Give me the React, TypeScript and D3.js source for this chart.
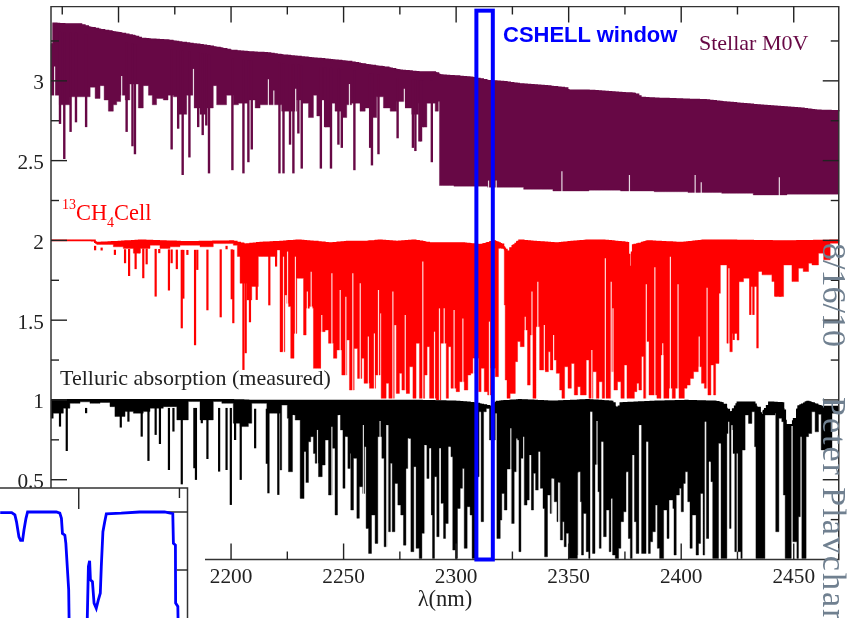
import React from 'react';
import * as d3 from 'd3';

type Pt = [number, number];

const xTicksMajor = [2150, 2200, 2250, 2300, 2350, 2400, 2450];
const xTicksMinor = [2125, 2175, 2225, 2275, 2325, 2375, 2425];
const yTicksMajor = [0.5, 1, 1.5, 2, 2.5, 3];
const yTicksMinor = [0.25, 0.75, 1.25, 1.75, 2.25, 2.75, 3.25];
const xTickLabels = [2200, 2250, 2300, 2350, 2400, 2450];
const yTickLabels = ['0.5', '1', '1.5', '2', '2.5', '3'];
const cshellWindow = [2309, 2316.3];
const cshellTop = 3.44;

// stellar M0V spectrum, upper edge, lower edge, deep lines, thin slits
const stellarTop: Pt[] = [[2120, 3.23], [2120.7, 3.23], [2121, 3.36], [2126, 3.355], [2132, 3.355], [2137, 3.335], [2142, 3.32], [2150, 3.3], [2157, 3.28], [2160, 3.265], [2164, 3.26], [2171, 3.255], [2178, 3.24], [2186, 3.225], [2193, 3.21], [2200, 3.19], [2208, 3.18], [2215, 3.175], [2223, 3.16], [2234, 3.145], [2245, 3.13], [2252, 3.12], [2260, 3.1], [2268, 3.085], [2275, 3.065], [2284, 3.054], [2290, 3.054], [2293, 3.035], [2299, 3.03], [2307, 3.02], [2314, 3.0], [2320, 2.995], [2328, 2.98], [2338, 2.97], [2348, 2.955], [2350, 2.94], [2358, 2.94], [2368, 2.93], [2379, 2.92], [2382, 2.895], [2388, 2.89], [2399, 2.885], [2410, 2.88], [2420, 2.865], [2432, 2.85], [2441, 2.84], [2451, 2.83], [2460, 2.815], [2470, 2.81]];
const stellarLow: Pt[] = [[2120, 2.91], [2122.5, 2.91], [2123.7, 2.85], [2128.4, 2.9], [2133.6, 2.9], [2137.4, 2.96], [2139.6, 2.89], [2141.8, 2.97], [2143.6, 2.88], [2145.5, 2.81], [2147.7, 2.85], [2149.2, 2.87], [2151, 2.91], [2153, 2.88], [2155, 2.98], [2158.8, 2.83], [2161, 2.97], [2163.3, 2.91], [2165, 2.85], [2166.9, 2.89], [2169.9, 2.88], [2172, 2.91], [2174.4, 2.9], [2176.6, 2.79], [2180.3, 2.91], [2183.3, 2.83], [2186.2, 2.79], [2189, 2.83], [2192.1, 2.97], [2193.6, 2.85], [2195.9, 2.85], [2198, 2.91], [2201, 2.85], [2203.3, 2.86], [2207.7, 2.88], [2210.7, 2.83], [2212.9, 2.85], [2220.3, 2.85], [2222.5, 2.81], [2226.2, 2.81], [2229.2, 2.88], [2231.4, 2.86], [2234.4, 2.77], [2236.6, 2.91], [2238.1, 2.78], [2239.9, 2.88], [2241.8, 2.71], [2244, 2.86], [2246.2, 2.81], [2249.2, 2.77], [2251.4, 2.85], [2253.6, 2.86], [2257.3, 2.81], [2259.6, 2.83], [2261.8, 2.77], [2264.7, 2.9], [2267.7, 2.83], [2270.7, 2.81], [2273.6, 2.87], [2277.3, 2.83], [2280.3, 2.79], [2283.3, 2.86], [2285.2, 2.71], [2287, 2.86], [2290.7, 2.81], [2292.1, 2.87], [2292.6, 2.344], [2299, 2.34], [2314, 2.333], [2330, 2.32], [2343, 2.31], [2359, 2.315], [2373, 2.31], [2388, 2.305], [2403, 2.3], [2418, 2.295], [2432, 2.285], [2447, 2.29], [2458, 2.29], [2470, 2.29]];
const stellarLines: Pt[] = [[2124, 2.73], [2125.9, 2.51], [2128.7, 2.68], [2131.1, 2.74], [2135.6, 2.71], [2153.6, 2.68], [2156.2, 2.59], [2157.3, 2.54], [2173.6, 2.57], [2176.5, 2.7], [2178.5, 2.41], [2181.5, 2.52], [2185.4, 2.71], [2187.4, 2.66], [2189, 2.72], [2190.2, 2.42], [2200.6, 2.44], [2205.5, 2.42], [2207.7, 2.49], [2209.2, 2.57], [2221.5, 2.42], [2223.3, 2.42], [2226.2, 2.6], [2227.7, 2.42], [2229.9, 2.67], [2231.4, 2.45], [2239.9, 2.45], [2241.8, 2.71], [2244.4, 2.45], [2247.7, 2.6], [2249.2, 2.58], [2254.8, 2.44], [2261.8, 2.58], [2262.6, 2.47], [2265.5, 2.54], [2274, 2.64], [2280.8, 2.58], [2281.9, 2.56], [2283.7, 2.62], [2285.2, 2.71], [2284.4, 2.62], [2289.2, 2.49]];
const stellarGaps: Pt[] = [[2121.6, 3.09], [2151.4, 3.03], [2183.3, 3.075], [2216.6, 3.01], [2219, 2.94], [2228.7, 2.95], [2252.6, 2.98], [2277, 2.95], [2314.4, 2.375], [2317.8, 2.375], [2347, 2.434], [2377, 2.41], [2406.2, 2.41], [2408.9, 2.365], [2443.6, 2.396]];

// 13CH4 cell spectrum
const cellTop: Pt[] = [[2120, 2.0], [2138, 2.0], [2140, 1.985], [2160, 2.0], [2180, 1.99], [2200, 1.995], [2206, 1.975], [2212, 1.985], [2221.8, 1.992], [2229, 2.0], [2236.6, 1.992], [2244, 1.982], [2251.4, 1.992], [2258.8, 1.992], [2266.2, 2.0], [2273.6, 1.992], [2281, 2.0], [2288.4, 1.982], [2295.9, 1.982], [2303.3, 1.982], [2310.7, 1.971], [2316.6, 1.995], [2320, 1.975], [2322.5, 1.93], [2325, 1.965], [2328, 2.0], [2336, 1.99], [2345, 1.982], [2350, 1.99], [2358, 2.0], [2365, 2.0], [2376, 1.985], [2377, 1.835], [2378.5, 1.97], [2385, 1.995], [2400, 1.985], [2410, 2.0], [2420, 2.0], [2445, 1.995], [2470, 2.0]];
const cellLow: Pt[] = [[2120, 2.0], [2138.1, 2.0], [2140.3, 1.975], [2147.7, 1.96], [2152.1, 1.95], [2156.6, 1.92], [2159.6, 1.95], [2164, 1.97], [2168.4, 1.95], [2172.9, 1.96], [2177.3, 1.97], [2186.2, 1.96], [2192.1, 1.98], [2201, 1.97], [2202.8, 1.899], [2204, 1.731], [2207, 1.627], [2209.2, 1.711], [2212.1, 1.899], [2220.3, 1.94], [2221.8, 1.302], [2223.9, 1.658], [2224.8, 1.605], [2225.5, 1.585], [2226.5, 1.261], [2228, 1.417], [2229.2, 1.762], [2232.2, 1.407], [2233.4, 1.574], [2234.8, 1.585], [2236.3, 1.574], [2236.6, 1.198], [2239.9, 1.428], [2241.8, 1.438], [2243.3, 1.355], [2245.5, 1.261], [2247, 1.313], [2249.2, 1.156], [2251.4, 1.376], [2252.6, 1.062], [2254.7, 1.323], [2256.2, 1.135], [2258.1, 1.261], [2259.1, 1.104], [2261.5, 1.073], [2264.2, 1.156], [2266.2, 1.543], [2266.7, 1.01], [2268.9, 1.104], [2270.1, 1.01], [2272.5, 1.47], [2273.4, 1.041], [2274.8, 1.167], [2275.9, 1.062], [2277.8, 1.041], [2279.3, 1.208], [2280.8, 1.01], [2282.2, 1.355], [2283.7, 1.01], [2286, 1.156], [2287.1, 1.334], [2288.2, 1.01], [2291.1, 1.0], [2293.2, 1.355], [2295.6, 1.01], [2296.6, 1.334], [2297.7, 1.073], [2300, 1.052], [2301.5, 1.114], [2303.6, 1.062], [2305.2, 1.156], [2306.5, 1.167], [2308, 1.261], [2310, 1.052], [2311.1, 1.198], [2312.5, 1.052], [2314, 1.031], [2315.4, 1.198], [2317.4, 1.146], [2318.8, 1.95], [2321.4, 1.595], [2321.8, 1.125], [2322.6, 1.01], [2324, 1.041], [2326.3, 1.24], [2327.3, 1.366], [2328.5, 1.334], [2330.3, 1.438], [2331.7, 1.093], [2332.9, 1.407], [2334, 1.01], [2335.5, 1.459], [2337.1, 1.188], [2339.6, 1.177], [2341, 1.302], [2341.8, 1.188], [2343.3, 1.25], [2344.5, 1.167], [2346, 1.062], [2347, 1.01], [2348.2, 1.208], [2349.7, 1.073], [2351.2, 1.229], [2352.5, 1.031], [2354, 1.083], [2355.2, 1.031], [2357.8, 1.25], [2359, 1.01], [2360.8, 1.177], [2362.3, 1.01], [2363.5, 1.114], [2364.9, 1.01], [2367.5, 1.01], [2368.8, 1.177], [2370, 1.062], [2371.7, 1.114], [2373.2, 1.01], [2374.7, 1.219], [2375.9, 1.01], [2379.2, 1.052], [2380.3, 1.104], [2381.2, 1.062], [2382.4, 1.272], [2383.3, 1.01], [2384.5, 1.366], [2385.7, 1.031], [2389.2, 1.01], [2391, 1.282], [2392.2, 1.01], [2394.6, 1.073], [2396, 1.01], [2397.4, 1.073], [2398.9, 1.01], [2401.4, 1.073], [2402.6, 1.093], [2404, 1.135], [2405.5, 1.177], [2407.7, 1.208], [2409, 1.104], [2410.3, 1.073], [2411.7, 1.031], [2413.2, 1.219], [2414.4, 1.031], [2415.3, 1.229], [2416.8, 1.668], [2417.4, 1.846], [2419.6, 1.846], [2420.3, 1.355], [2421.5, 1.302], [2422.7, 1.417], [2424.8, 1.375], [2425.7, 1.741], [2427.7, 1.763], [2430.7, 1.711], [2432.1, 1.711], [2433.9, 1.805], [2435.9, 1.784], [2440.3, 1.742], [2442, 1.648], [2444, 1.648], [2445.5, 1.846], [2449.2, 1.742], [2452.1, 1.826], [2454.2, 1.805], [2456.6, 1.857], [2458.1, 1.846], [2461, 1.92], [2463.3, 1.878], [2466.2, 1.982], [2470, 1.982]];
const cellLines: Pt[] = [[2139.6, 1.966], [2142.5, 1.955], [2148.4, 1.909], [2152.9, 1.857], [2154.7, 1.777], [2157.6, 1.82], [2159.3, 1.92], [2161, 1.763], [2162.5, 1.85], [2166.5, 1.648], [2168.1, 1.92], [2172.4, 1.686], [2173.6, 1.857], [2175.9, 1.82], [2178.1, 1.449], [2178.8, 1.635], [2180.6, 1.909], [2184, 1.343], [2185, 1.815], [2189.5, 1.562], [2195.4, 1.518], [2198, 1.966], [2200.3, 1.631], [2201, 1.481], [2205.5, 1.188], [2206.5, 1.293], [2208.4, 1.487], [2211.4, 1.627], [2217, 1.593], [2220, 1.836], [2222.2, 1.301], [2423.3, 1.376], [2430.7, 1.533], [2432.1, 1.533], [2433.9, 1.324], [2441.8, 1.648], [2444, 1.648]];
const cellGaps: Pt[] = [[2223.3, 1.898], [2225.1, 1.93], [2228.6, 1.898], [2233.9, 1.679], [2235.6, 1.804], [2240.3, 1.532], [2244.8, 1.794], [2248.5, 1.689], [2251, 1.647], [2254.1, 1.794], [2257.4, 1.731], [2261, 1.397], [2263.7, 1.417], [2265.5, 1.689], [2271.9, 1.679], [2277.4, 1.532], [2285.2, 1.867], [2290.4, 1.428], [2292.6, 1.574], [2294.7, 1.574], [2299.1, 1.564], [2303, 1.511], [2307.7, 1.261], [2314.8, 1.491], [2319.6, 1.95], [2330.7, 1.522], [2333.7, 1.679], [2336.3, 1.741], [2339.2, 1.47], [2343.3, 1.407], [2360.3, 1.313], [2366.3, 1.888], [2368.9, 1.741], [2369.7, 1.574], [2384.5, 1.725], [2388.3, 1.831], [2391.8, 1.355], [2395.2, 1.898], [2398.6, 1.725], [2408, 1.397], [2411.5, 1.704], [2421.2, 1.825]];

// telluric absorption, measured
const tellTop: Pt[] = [[2120, 1.0], [2200, 1.0], [2210, 0.995], [2284, 0.995], [2300, 0.99], [2308, 0.98], [2315, 0.958], [2318, 0.99], [2328, 1.0], [2343, 0.99], [2358, 1.0], [2369, 0.99], [2371.4, 0.938], [2373, 0.98], [2388, 0.99], [2402, 0.995], [2415, 0.99], [2418, 0.98], [2421.7, 0.915], [2425, 0.985], [2432, 0.985], [2435.5, 0.906], [2439, 0.985], [2445, 0.98], [2446.5, 0.843], [2449, 0.843], [2452, 0.96], [2456, 0.99], [2462, 0.958], [2470, 0.958]];
const tellLow: Pt[] = [[2120, 0.885], [2121, 0.917], [2125.5, 0.948], [2128.4, 0.979], [2132.9, 0.988], [2137.3, 0.979], [2141.8, 0.984], [2146.2, 0.958], [2148.4, 0.896], [2152.9, 0.927], [2156.6, 0.917], [2161, 0.927], [2164, 0.948], [2169.9, 0.958], [2175.9, 0.875], [2181, 0.99], [2186.2, 0.875], [2192.1, 0.99], [2195.9, 0.979], [2201, 0.854], [2204, 0.833], [2207.7, 0.854], [2209.2, 0.979], [2212.9, 0.979], [2215.9, 0.917], [2218.8, 0.917], [2221.8, 0.561], [2222.5, 0.968], [2225, 0.885], [2225.5, 0.55], [2227.4, 0.906], [2228.5, 0.874], [2230.7, 0.383], [2232.5, 0.676], [2233.1, 0.483], [2234.4, 0.738], [2235.4, 0.77], [2236.6, 0.665], [2237.4, 0.603], [2238.8, 0.519], [2240.5, 0.592], [2241.8, 0.749], [2243.3, 0.404], [2244.9, 0.697], [2246.2, 0.279], [2247.3, 0.906], [2248.5, 0.812], [2249.7, 0.446], [2250.8, 0.77], [2251.9, 0.571], [2252.9, 0.665], [2253.2, 0.31], [2254.4, 0.634], [2255.9, 0.258], [2257, 0.456], [2258.5, 0.414], [2259.3, 0.707], [2260, 0.195], [2261.1, 0.038], [2262.4, 0.279], [2264, 0.101], [2265.2, 0.77], [2267, 0.634], [2268, 0.08], [2269.2, 0.843], [2270, 0.174], [2270.8, 0.603], [2271.6, 0.174], [2272.8, 0.477], [2274.1, 0.341], [2275.4, 0.279], [2276.6, 0.09], [2277.7, 0.571], [2278.8, 0.759], [2279.9, 0.049], [2281.2, 0.582], [2282.2, 0.07], [2283.6, 0.007], [2284.8, 0.164], [2286, 0.717], [2287, 0.508], [2288, 0.697], [2288.9, 0.279], [2289.5, 0.007], [2290.4, 0.519], [2291.4, 0.143], [2292.5, 0.697], [2293.2, 0.352], [2294.4, 0.132], [2295.3, 0.226], [2296.6, 0.707], [2297.7, 0.644], [2298.5, 0.059], [2299.7, 0.007], [2300.6, 0.32], [2301.8, 0.446], [2302.8, 0.571], [2303.6, 0.07], [2304.9, 0.331], [2306.2, 0.279], [2307.1, 0.007], [2309.2, 0.519], [2310.2, 0.926], [2311.1, 0.237], [2312.2, 0.926], [2313.4, 0.947], [2314.8, 0.749], [2317.4, 0.916], [2318.1, 0.132], [2319.6, 0.247], [2320.3, 0.414], [2321.4, 0.31], [2322.6, 0.567], [2324.5, 0.226], [2325.8, 0.55], [2327, 0.749], [2327.9, 0.049], [2328.8, 0.634], [2330, 0.341], [2331.5, 0.373], [2332.6, 0.655], [2333.4, 0.31], [2334.4, 0.54], [2335.3, 0.435], [2336.6, 0.676], [2337.4, 0.446], [2338.6, 0.32], [2339.3, 0.017], [2340.6, 0.404], [2341.8, 0.289], [2342.6, 0.508], [2343.6, 0.362], [2344.8, 0.237], [2345.7, 0.483], [2346.3, 0.122], [2347.3, 0.237], [2348, 0.08], [2348.9, 0.164], [2350, 0.007], [2354, 0.028], [2354.3, 0.55], [2355.2, 0.362], [2355.7, 0.028], [2356.6, 0.289], [2357.8, 0.049], [2358.9, 0.007], [2359.6, 0.926], [2360.6, 0.038], [2361.7, 0.596], [2362.9, 0.425], [2363.6, 0.07], [2364.6, 0.738], [2365.5, 0.143], [2366.7, 0.31], [2368, 0.049], [2368.8, 0.383], [2369.5, 0.028], [2370.7, 0.007], [2372.2, 0.07], [2373.2, 0.237], [2374.4, 0.299], [2375.6, 0.55], [2376.5, 0.132], [2377.4, 0.007], [2378.4, 0.655], [2379.2, 0.237], [2380, 0.038], [2381.2, 0.843], [2382.4, 0.038], [2384.5, 0.738], [2385.4, 0.038], [2386.3, 0.111], [2387.3, 0.174], [2388.5, 0.341], [2389.4, 0.07], [2390.4, 0.007], [2392.2, 0.31], [2393.7, 0.132], [2394.6, 0.373], [2396.3, 0.32], [2396.8, 0.028], [2397.8, 0.404], [2399.2, 0.446], [2400, 0.299], [2401, 0.477], [2401.8, 0.55], [2402.9, 0.362], [2403.9, 0.07], [2404.9, 0.279], [2406.6, 0.028], [2407.7, 0.101], [2408.6, 0.414], [2409.7, 0.028], [2410.6, 0.864], [2411.2, 0.132], [2412.3, 0.613], [2413.2, 0.488], [2414, 0.007], [2416.6, 0.728], [2417.7, 0.007], [2420.3, 0.79], [2421.3, 0.195], [2422.2, 0.843], [2422.9, 0.665], [2423.8, 0.049], [2426.5, 0.007], [2427.1, 0.686], [2428.4, 0.906], [2429.9, 0.853], [2431.4, 0.926], [2432.6, 0.707], [2433.2, 0.007], [2436.7, 0.007], [2437.2, 0.906], [2439.5, 0.906], [2441.7, 0.916], [2442, 0.174], [2443.1, 0.174], [2443.4, 0.885], [2444.7, 0.864], [2445.4, 0.404], [2446.2, 0.007], [2448.4, 0.007], [2448.9, 0.853], [2449.6, 0.111], [2451.4, 0.007], [2452.1, 0.268], [2452.9, 0.77], [2453.6, 0.007], [2455.2, 0.007], [2455.5, 0.77], [2456.6, 0.79], [2458, 0.926], [2459.5, 0.8], [2461, 0.91], [2462.2, 0.687], [2465.5, 0.687], [2467, 0.917], [2470, 0.854]];
const tellLines: Pt[] = [[2124, 0.833], [2127, 0.68], [2135.6, 0.917], [2151, 0.827], [2154.4, 0.864], [2160.3, 0.77], [2163.3, 0.618], [2166.5, 0.781], [2168.4, 0.724], [2172.4, 0.561], [2174.4, 0.802], [2178.1, 0.471], [2183.7, 0.572], [2184.4, 0.499], [2187, 0.854], [2189.5, 0.63], [2194.7, 0.551], [2198, 0.561], [2199.9, 0.342], [2201.8, 0.749], [2204.3, 0.499], [2210.7, 0.697], [2215.9, 0.6], [2216.6, 0.415], [2221, 0.405]];
const tellGaps: Pt[] = [[2227.7, 0.906], [2232.9, 0.676], [2238.4, 0.812], [2244.8, 0.832], [2248.2, 0.906], [2251, 0.77], [2258.8, 0.843], [2266.2, 0.868], [2269.2, 0.843], [2278.8, 0.759], [2286.2, 0.717], [2288.5, 0.697], [2292.9, 0.697], [2296.9, 0.707], [2324.3, 0.822], [2327, 0.759], [2330, 0.77], [2332.9, 0.655], [2336.9, 0.676], [2342.6, 0.508], [2345.5, 0.483], [2354.3, 0.546], [2359.9, 0.926], [2362.6, 0.868], [2364.8, 0.738], [2375.9, 0.546], [2378.6, 0.655], [2381.8, 0.843], [2384.8, 0.738], [2410.7, 0.864], [2412.6, 0.613], [2421.1, 0.864], [2422.7, 0.812], [2424.9, 0.665]];

// zoomed CSHELL line profile in the inset
const insetLine: Pt[] = [[2311.61, 0.999], [2311.667, 0.999], [2311.683, 0.995], [2311.691, 0.983], [2311.703, 0.957], [2311.711, 0.951], [2311.721, 0.951], [2311.728, 0.969], [2311.738, 0.989], [2311.746, 1.0], [2311.889, 1.0], [2311.906, 0.998], [2311.914, 0.989], [2311.919, 0.963], [2311.931, 0.96], [2311.936, 0.946], [2311.944, 0.9], [2311.95, 0.866], [2311.952, 0.817], [2311.964, 0.7], [2312.035, 0.7], [2312.048, 0.906], [2312.054, 0.916], [2312.058, 0.883], [2312.068, 0.88], [2312.076, 0.843], [2312.087, 0.834], [2312.097, 0.848], [2312.107, 0.86], [2312.112, 0.906], [2312.12, 0.966], [2312.129, 0.983], [2312.137, 0.997], [2312.211, 0.998], [2312.302, 1.0], [2312.426, 1.0], [2312.467, 0.997], [2312.47, 0.946], [2312.48, 0.943], [2312.481, 0.843], [2312.492, 0.837], [2312.493, 0.817], [2312.5, 0.7]];

const W = 847;
const H = 618;
const serif = '"Liberation Serif", serif';
const sans = '"Liberation Sans", sans-serif';
const maroon = '#670845';
const axisColor = '#333';

const x = d3.scaleLinear().domain([2120, 2470]).range([51, 838.75]);
const y = d3.scaleLinear().domain([0, 3.466]).range([559.5, 6.5]);
const insetX = d3.scaleLinear().domain([2311.609, 2312.54]).range([0, 187.5]);
const insetY = d3.scaleLinear().domain([1, 0.9]).range([512, 570]);

const topInterp = (pts: Pt[]) => d3.scaleLinear().domain(pts.map(p => p[0])).range(pts.map(p => p[1]));
// lower edge holds its value until the next reading
const lowStep = (pts: Pt[]) => {
    const bis = d3.bisector((p: Pt) => p[0]).right;
    return (w: number) => pts[Math.max(0, bis(pts, w) - 1)][1];
};

const Spectrum = ({ top, low, lines, gaps, floor, color, lineWidth }: { top: Pt[]; low: Pt[]; lines: Pt[]; gaps: Pt[]; floor: number; color: string; lineWidth: number }) => {
    const topAt = topInterp(top);
    const lowAt = lowStep(low);
    const waves = Array.from(new Set([...top.map(p => p[0]), ...low.map(p => p[0]), ...d3.range(2120, 2470, 1.5)])).sort(d3.ascending);
    const area = d3.area<number>()
        .x(d => x(d))
        .y0(d => y(Math.min(lowAt(d), topAt(d))))
        .y1(d => y(topAt(d)))
        .curve(d3.curveStepAfter);
    const topLine = d3.line<number>().x(d => x(d)).y(d => y(topAt(d))).curve(d3.curveStepAfter);
    return (
        <g>
            <path d={area(waves) ?? ''} fill={color} stroke={color} strokeWidth={0.4} />
            <path d={topLine(waves) ?? ''} fill="none" stroke={color} strokeWidth={1.8} />
            {gaps.map((g, i) => (
                <line key={i} x1={x(g[0])} x2={x(g[0])} y1={y(g[1])} y2={y(floor)} stroke="#fff" strokeWidth={1.2} opacity={0.85} />
            ))}
            {lines.map((l, i) => (
                <line key={i} x1={x(l[0])} x2={x(l[0])} y1={y(topAt(l[0]) - 0.05)} y2={y(l[1])} stroke={color} strokeWidth={lineWidth} />
            ))}
        </g>
    );
};

export default function App() {
    const insetPath = d3.line<Pt>().x(d => insetX(d[0])).y(d => insetY(d[1]))(insetLine) ?? '';
    return (
        <svg width={W} height={H} viewBox={`0 0 ${W} ${H}`} style={{ position: 'absolute', left: 0, top: 0, background: '#fff' }}>
            <defs>
                <filter id="soft" x="0" y="0" width="100%" height="100%" colorInterpolationFilters="sRGB">
                    <feGaussianBlur stdDeviation="0.35" />
                </filter>
            </defs>
            <g filter="url(#soft)">
                <Spectrum top={stellarTop} low={stellarLow} lines={stellarLines} gaps={stellarGaps} floor={2.26} color={maroon} lineWidth={2.4} />
                <Spectrum top={cellTop} low={cellLow} lines={cellLines} gaps={cellGaps} floor={1.0} color="#ff0000" lineWidth={2.2} />
                <Spectrum top={tellTop} low={tellLow} lines={tellLines} gaps={tellGaps} floor={0} color="#000" lineWidth={2.2} />

                {/* frame and ticks */}
                <rect x={x(2120)} y={y(3.466)} width={x(2470) - x(2120)} height={y(0) - y(3.466)} fill="none" stroke={axisColor} strokeWidth={1.5} />
                {xTicksMajor.map(t => (
                    <g key={t} stroke="#222" strokeWidth={1.4}>
                        <line x1={x(t)} x2={x(t)} y1={y(3.466)} y2={y(3.466) + 16} />
                        <line x1={x(t)} x2={x(t)} y1={y(0)} y2={y(0) - 16} />
                    </g>
                ))}
                {xTicksMinor.map(t => (
                    <g key={t} stroke="#222" strokeWidth={1.4}>
                        <line x1={x(t)} x2={x(t)} y1={y(3.466)} y2={y(3.466) + 8} />
                        <line x1={x(t)} x2={x(t)} y1={y(0)} y2={y(0) - 8} />
                    </g>
                ))}
                {yTicksMajor.map(t => (
                    <g key={t} stroke="#222" strokeWidth={1.4}>
                        <line x1={x(2120)} x2={x(2120) + 16} y1={y(t)} y2={y(t)} />
                        <line x1={x(2470)} x2={x(2470) - 16} y1={y(t)} y2={y(t)} />
                    </g>
                ))}
                {yTicksMinor.map(t => (
                    <g key={t} stroke="#222" strokeWidth={1.4}>
                        <line x1={x(2120)} x2={x(2120) + 8} y1={y(t)} y2={y(t)} />
                        <line x1={x(2470)} x2={x(2470) - 8} y1={y(t)} y2={y(t)} />
                    </g>
                ))}
                {yTickLabels.map(t => (
                    <text key={t} x={44} y={y(+t) + 8.5} textAnchor="end" fontFamily={serif} fontSize={21.3} fill="#222">{t}</text>
                ))}
                {xTickLabels.map(t => (
                    <text key={t} x={x(t)} y={583} textAnchor="middle" fontFamily={serif} fontSize={21.3} fill="#222">{t}</text>
                ))}
                <text x={445} y={606} textAnchor="middle" fontFamily={serif} fontSize={22.5} fill="#222">λ(nm)</text>

                {/* CSHELL window */}
                <rect x={x(cshellWindow[0])} y={y(cshellTop)} width={x(cshellWindow[1]) - x(cshellWindow[0])} height={y(0) - y(cshellTop)} fill="none" stroke="#0000ff" strokeWidth={4} />
                <text x={503} y={41.5} fontFamily={sans} fontWeight="bold" fontSize={22} fill="#0000ff">CSHELL window</text>
                <text x={699} y={50} fontFamily={serif} fontSize={22} fill={maroon}>Stellar M0V</text>
                <text x={62} y={220} fontFamily={serif} fontSize={22.4} fill="#ff0000">
                    <tspan dy={-11} fontSize={14}>13</tspan>
                    <tspan dy={11}>CH</tspan>
                    <tspan dy={7} fontSize={14}>4</tspan>
                    <tspan dy={-7}>Cell</tspan>
                </text>
                <text x={60} y={385} fontFamily={serif} fontSize={22} fill="#222">Telluric absorption (measured)</text>

                {/* inset */}
                <rect x={-4} y={488} width={209} height={140} fill="#fff" />
                <rect x={-4} y={488} width={191.5} height={140} fill="none" stroke={axisColor} strokeWidth={1.5} />
                <line x1={insetX(2312)} x2={insetX(2312)} y1={488} y2={509} stroke="#222" strokeWidth={1.4} />
                <line x1={insetX(2312.5)} x2={insetX(2312.5)} y1={488} y2={498} stroke="#222" strokeWidth={1.4} />
                <line x1={187.5} x2={167} y1={insetY(1)} y2={insetY(1)} stroke="#222" strokeWidth={1.4} />
                <line x1={187.5} x2={177} y1={insetY(0.9)} y2={insetY(0.9)} stroke="#222" strokeWidth={1.4} />
                <path d={insetPath} fill="none" stroke="#0000ff" strokeWidth={2.8} />

                {/* date and author stamp */}
                <text transform="translate(823,243) rotate(90)" fontFamily={serif} fontSize={34} fill="#708090">8/16/10</text>
                <text transform="translate(823,397) rotate(90)" fontFamily={serif} fontSize={34} letterSpacing={2} fill="#708090">Peter Plavchan</text>
            </g>
        </svg>
    );
}
